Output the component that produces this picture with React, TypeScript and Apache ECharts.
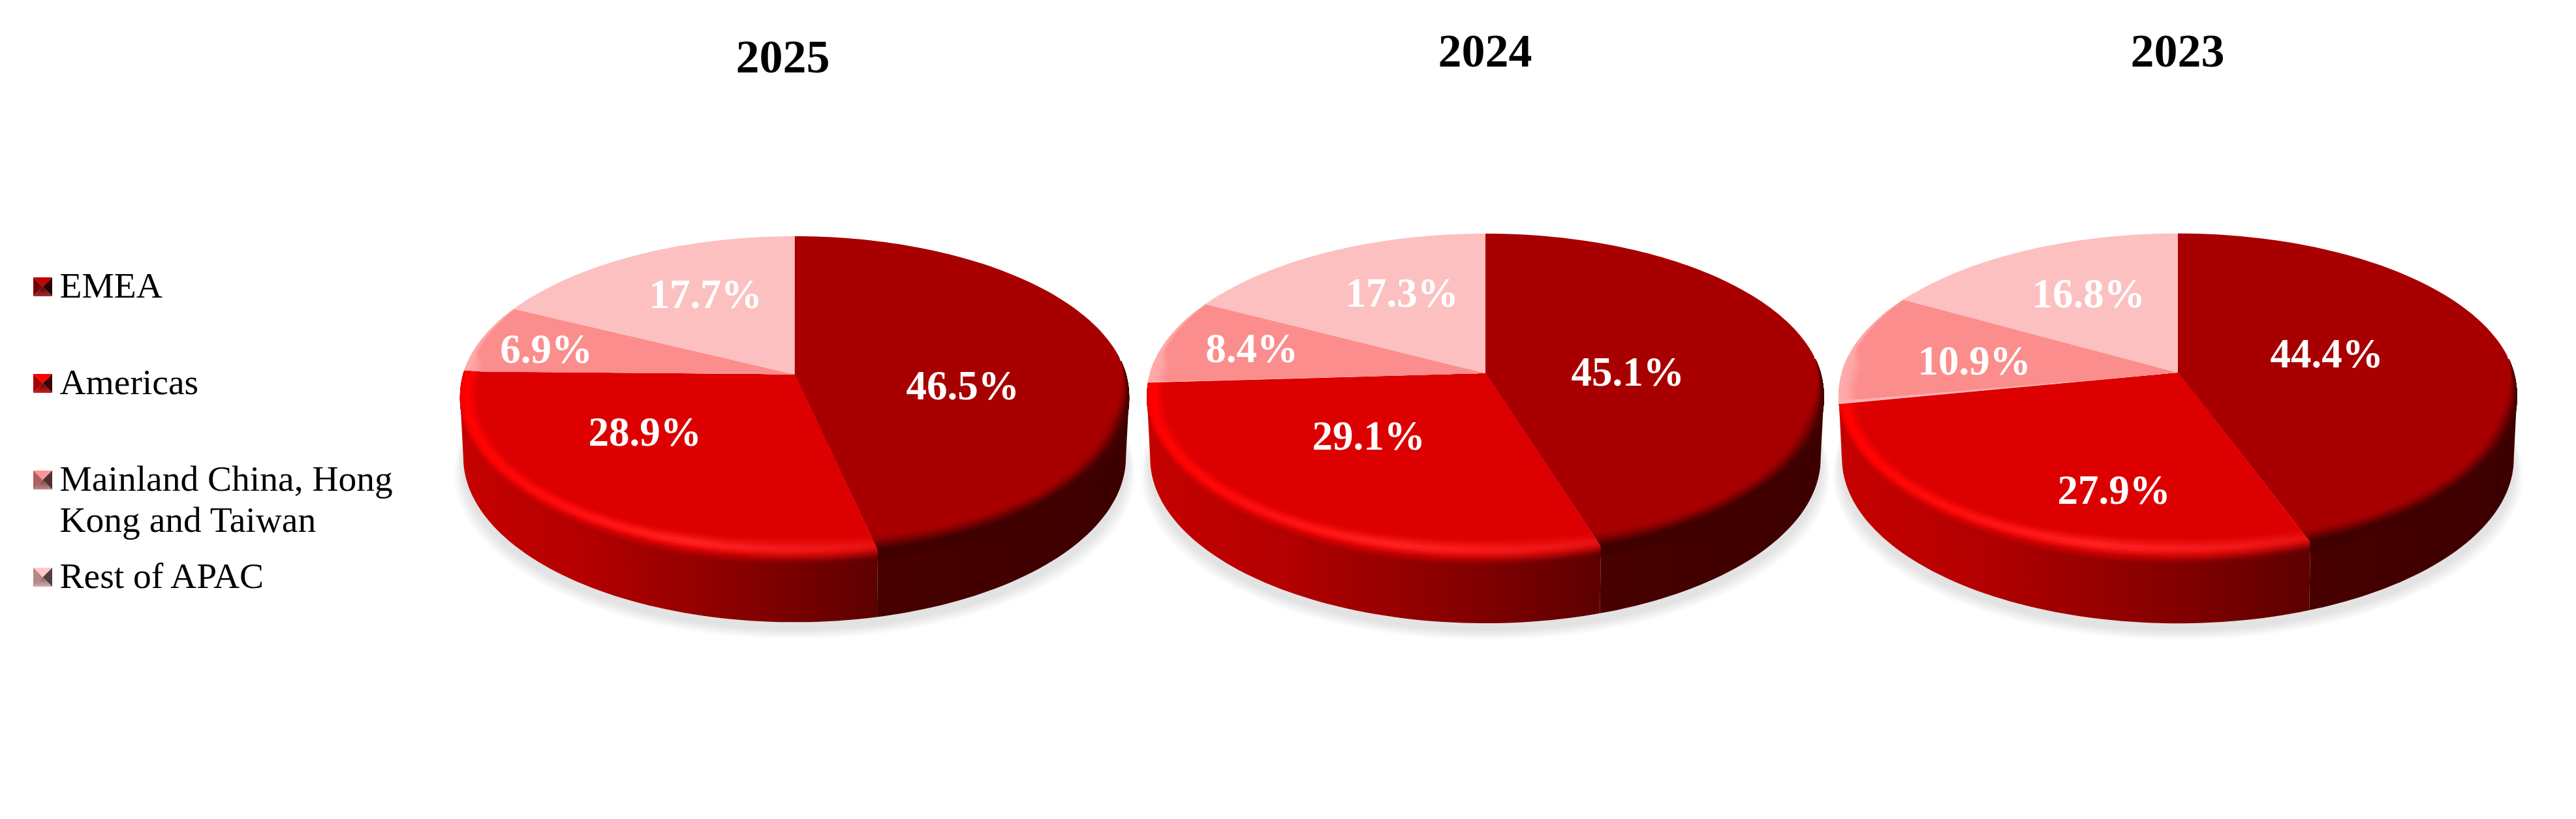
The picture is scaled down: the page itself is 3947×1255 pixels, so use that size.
import React, { useEffect, useRef } from "react";
import * as echarts from "echarts";

const years = ["2025", "2024", "2023"];
const regions = ["EMEA", "Americas", "Mainland China, Hong Kong and Taiwan", "Rest of APAC"];
const legendLabels = ["EMEA", "Americas", "Mainland China, Hong\nKong and Taiwan", "Rest of APAC"];
const values2025 = [46.5, 28.9, 6.9, 17.7];
const values2024 = [45.1, 29.1, 8.4, 17.3];
const values2023 = [44.4, 27.9, 10.9, 16.8];
const yearValues = [values2025, values2024, values2023];

const SERIF = "'Liberation Serif', 'Times New Roman', serif";
const P = 0.1346;
const DEG = Math.PI / 180;

type Geo = { cx: number; apex: number; A: number; H: number; botApex: number; A2: number; H2: number; yc: number };
const mkGeo = (cx: number, apex: number, R: number, H: number, bottom: number): Geo => ({
  cx, apex, A: R - 5, H,
  botApex: bottom - 248 / (1 - P), A2: R - 10, H2: 248,
  yc: apex + (H / (1 - P) - H / (1 + P)) / 2,
});
const geos = [
  mkGeo(1217.5, 573.5, 513, 240, 953.4),
  mkGeo(2276, 571.8, 519, 242.6, 955),
  mkGeo(3337, 570.8, 520, 241.7, 955.2),
];
const titleCenters = [1199.5, 2275.5, 3336.5];
const titleTops = [50.7, 41.7, 41.7];
const labelCenters = [
  [[1475, 591], [988, 662], [837, 535], [1081, 451]],
  [[2494, 570], [2097, 668], [1918, 534], [2148, 449]],
  [[3565, 542], [3239, 751], [3025, 553], [3200, 450]],
];

const topColors = ["#A80000", "#DC0000", "#FC8D8D", "#FCC0C0"];
const sideStops: [number, string][][] = [
  [[0, "#480000"], [1, "#3c0000"]],
  [[0, "#c60000"], [0.3, "#b40000"], [0.55, "#960000"], [0.8, "#780000"], [1, "#5c0000"]],
  [[0, "#c60000"], [1, "#c60000"]],
  [[0, "#c60000"], [1, "#c60000"]],
];
// bevel colour ramps: t (outer -> inner) with left / middle / right tint
const ramps: [number, string, string, string][][] = [
  [[-0.6, "#400000", "#400000", "#400000"], [-0.02, "#400000", "#400000", "#400000"], [0.25, "#5e0000", "#5e0000", "#5e0000"], [0.6, "#900000", "#900000", "#900000"], [0.9, "#A80000", "#A80000", "#A80000"], [1, "#A80000", "#A80000", "#A80000"]],
  [[-0.6, "#c60000", "#960000", "#5c0000"], [-0.42, "#cc0000", "#a80000", "#6c0000"], [-0.2, "#d40000", "#c80000", "#9a0606"], [0, "#ec0000", "#e80a0a", "#cc0808"], [0.18, "#fc0000", "#fc1c1c", "#e41010"], [0.38, "#ff0000", "#ff2222", "#e81212"], [0.6, "#f60000", "#f41212", "#e40a0a"], [0.85, "#e40000", "#e20505", "#de0202"], [1, "#DC0000", "#DC0000", "#DC0000"]],
  [[-0.6, "#FFB4B4", "#FFB4B4", "#FFB4B4"], [0.4, "#FFA6A6", "#FFA6A6", "#FFA6A6"], [1, "#FC8D8D", "#FC8D8D", "#FC8D8D"]],
  [[-0.6, "#FFD0D0", "#FFD0D0", "#FFD0D0"], [1, "#FCC0C0", "#FCC0C0", "#FCC0C0"]],
];
const legendBaselines = [405.5, 553.8, 701.8, 850.5];
const markerTops = [425, 573, 721, 870];
const markerShades = [
  ["#c00000", "#7a0000", "#2c0000", "#4a0000", "#a83030"],
  ["#ff0000", "#a80000", "#3c0000", "#600000", "#c82020"],
  ["#ff9494", "#b06060", "#503030", "#704040", "#c88888"],
  ["#ffc8c8", "#b88888", "#504040", "#806060", "#d8b0b0"],
];

const hex = (c: string) => [1, 3, 5].map((i) => parseInt(c.slice(i, i + 2), 16));
const mix = (a: string, b: string, f: number) => {
  const x = hex(a), y = hex(b);
  return `rgb(${x.map((v, i) => Math.round(v + (y[i] - v) * f)).join(",")})`;
};
const rampColors = (ramp: [number, string, string, string][], t: number) => {
  for (let i = 0; i < ramp.length - 1; i++) {
    const a = ramp[i], b = ramp[i + 1];
    if (t <= b[0]) {
      const f = Math.max(0, (t - a[0]) / (b[0] - a[0]));
      return [mix(a[1], b[1], f), mix(a[2], b[2], f), mix(a[3], b[3], f)];
    }
  }
  const l = ramp[ramp.length - 1];
  return [mix(l[1], l[1], 0), mix(l[2], l[2], 0), mix(l[3], l[3], 0)];
};

const uv = (th: number) => ({ u: Math.sin(th), v: -Math.cos(th) });
const rimTop = (g: Geo, th: number) => {
  const { u, v } = uv(th);
  const d = 1 - P * v;
  return [g.cx + (g.A * u) / d, g.apex + (g.H * v) / d];
};
const rimBottom = (g: Geo, th: number) => {
  const { u, v } = uv(th);
  const d = 1 - P * v;
  return [g.cx + (g.A2 * u) / d, g.botApex + (g.H2 * v) / d];
};
const weight = (th: number) => {
  const { u, v } = uv(th);
  if (u >= 0) return Math.min(1, Math.max(0, (v + 0.1) / 0.4));
  if (v > -0.05) return 1;
  if (v > -0.15) return 0.3 + (0.7 * (v + 0.15)) / 0.1;
  if (v > -0.55) return (0.3 * (v + 0.55)) / 0.4;
  return 0;
};
const BEVEL = 27;
const bevelPoint = (g: Geo, th: number, t: number) => {
  const p = rimTop(g, th);
  const w = weight(th);
  const { v } = uv(th);
  if (t < 0) return [p[0], p[1] - t * BEVEL * Math.sqrt(Math.max(v, 0))];
  const dx = p[0] - g.cx, dy = p[1] - g.yc;
  const n = Math.hypot(dx, dy) || 1;
  return [p[0] - (dx / n) * t * BEVEL * w, p[1] - (dy / n) * t * BEVEL * w];
};
const samples = (a: number, b: number) => {
  const out: number[] = [];
  const n = Math.max(2, Math.ceil((b - a) / (1.5 * DEG)));
  for (let i = 0; i <= n; i++) out.push(a + ((b - a) * i) / n);
  return out;
};
const spans = (values: number[]) => {
  const total = values.reduce((s, x) => s + x, 0);
  let acc = 0;
  return values.map((x) => {
    const a = (acc / total) * 360 * DEG;
    acc += x;
    return [a, (acc / total) * 360 * DEG];
  });
};
const hGrad = (x0: number, x1: number, stops: [number, string][]) =>
  new echarts.graphic.LinearGradient(x0, 0, Math.max(x1, x0 + 1), 0, stops.map(([offset, color]) => ({ offset, color })), true);

const SIDE_START = 97.7 * DEG;
const SIDE_END = 262.3 * DEG;
const SHADOW_STEPS = 10;

const sideItem = (pie: number) => (params: any) => {
  const g = geos[pie];
  const i = params.dataIndex;
  const [a, b] = spans(yearValues[pie])[i];
  const children: any[] = [];
  if (i === 0) {
    for (let k = 0; k <= SHADOW_STEPS; k++) {
      const f = k / SHADOW_STEPS;
      const sx = 1.028 - 0.026 * f, dy = 26 - 14 * f;
      const ring = samples(0, 360 * DEG).map((th) => {
        const q = rimBottom(g, th);
        return [g.cx + (q[0] - g.cx) * sx, q[1] + dy];
      });
      children.push({
        type: "polygon",
        shape: { points: ring },
        style: { fill: mix("#fdfdfd", "#e3e3e3", f) },
      });
    }
  }
  const s = Math.max(a, SIDE_START), e = Math.min(b, SIDE_END);
  if (e > s) {
    const th = samples(s, e);
    const pts = th.map((x) => rimTop(g, x)).concat(th.slice().reverse().map((x) => rimBottom(g, x)));
    const xs = pts.map((p) => p[0]);
    children.push({
      type: "polygon",
      shape: { points: pts },
      style: { fill: hGrad(Math.min(...xs), Math.max(...xs), sideStops[i]) },
    });
  }
  return { type: "group", children };
};

const LAYERS = 26;
const T_MIN = -0.6;
const topItem = (pie: number) => (params: any) => {
  const g = geos[pie];
  const i = params.dataIndex;
  const values = yearValues[pie];
  const [a, b] = spans(values)[i];
  const th = samples(a, b);
  const children: any[] = [];
  const front = th.filter((x) => weight(x) > 0 || uv(x).v > 0);
  if (front.length > 1) {
    const xs = th.map((x) => rimTop(g, x)[0]);
    const x0 = Math.min(...xs), x1 = Math.max(...xs);
    for (let k = 0; k < LAYERS; k++) {
      const t = T_MIN + ((1 - T_MIN) * k) / LAYERS;
      const [l, m, r] = rampColors(ramps[i], t);
      children.push({
        type: "polygon",
        shape: { points: [[g.cx, g.apex], ...front.map((x) => bevelPoint(g, x, t))] },
        style: { fill: hGrad(x0, x1, [[0, l], [0.55, m], [1, r]]) },
      });
    }
  }
  children.push({
    type: "polygon",
    shape: { points: [[g.cx, g.apex], ...th.map((x) => bevelPoint(g, x, 1))] },
    style: { fill: topColors[i] },
  });
  const [lx, ly] = labelCenters[pie][i];
  children.push({
    type: "text",
    z2: 100,
    x: lx,
    y: ly,
    style: {
      text: `${values[i].toFixed(1)}%`,
      align: "center",
      verticalAlign: "middle",
      fontFamily: SERIF,
      fontWeight: "bold",
      fontSize: 63,
      fill: "#ffffff",
    },
  });
  return { type: "group", children };
};

const markerGraphics = regions.flatMap((_, i) => {
  const x0 = 51, y0 = markerTops[i], s = 29;
  const cx = x0 + s / 2, cy = y0 + s / 2;
  const [top, left, right, botIn, botOut] = markerShades[i];
  const tri = (points: number[][], fill: any) => ({ type: "polygon", shape: { points }, style: { fill } });
  return [
    tri([[x0, y0], [x0 + s, y0], [cx, cy]], top),
    tri([[x0, y0], [cx, cy], [x0, y0 + s]], left),
    tri([[x0 + s, y0], [x0 + s, y0 + s], [cx, cy]], right),
    tri([[x0, y0 + s], [cx, cy], [x0 + s, y0 + s]],
      new echarts.graphic.LinearGradient(0, cy, 0, y0 + s, [{ offset: 0, color: botIn }, { offset: 1, color: botOut }], true)),
  ];
});
const legendTextGraphics = legendLabels.map((text, i) => ({
  type: "text",
  x: 91.5,
  y: legendBaselines[i],
  style: {
    text,
    align: "left",
    verticalAlign: "top",
    fontFamily: SERIF,
    fontSize: 55.5,
    lineHeight: 63,
    fill: "#000000",
  },
}));

export default function App() {
  const ref = useRef<HTMLDivElement>(null);
  useEffect(() => {
    const chart = echarts.init(ref.current!, undefined, { renderer: "svg" });
    const mkData = (values: number[]) => values.map((value, i) => ({ name: regions[i], value }));
    chart.setOption({
      animation: false,
      backgroundColor: "#ffffff",
      title: years.map((text, i) => ({
        text,
        left: titleCenters[i],
        top: titleTops[i],
        textAlign: "center",
        padding: 0,
        textStyle: { fontFamily: SERIF, fontWeight: "bold", fontSize: 72, lineHeight: 72, color: "#000000" },
      })),
      graphic: { elements: [...markerGraphics, ...legendTextGraphics] },
      series: years.flatMap((y, pie) => [
        { type: "custom", name: `${y} side`, coordinateSystem: "none", z: 1, silent: true, renderItem: sideItem(pie), data: mkData(yearValues[pie]) },
        { type: "custom", name: y, coordinateSystem: "none", z: 2, silent: true, renderItem: topItem(pie), data: mkData(yearValues[pie]) },
      ]),
    });
    return () => chart.dispose();
  }, []);
  return <div ref={ref} style={{ position: "fixed", left: 0, top: 0, width: 3947, height: 1255 }} />;
}
